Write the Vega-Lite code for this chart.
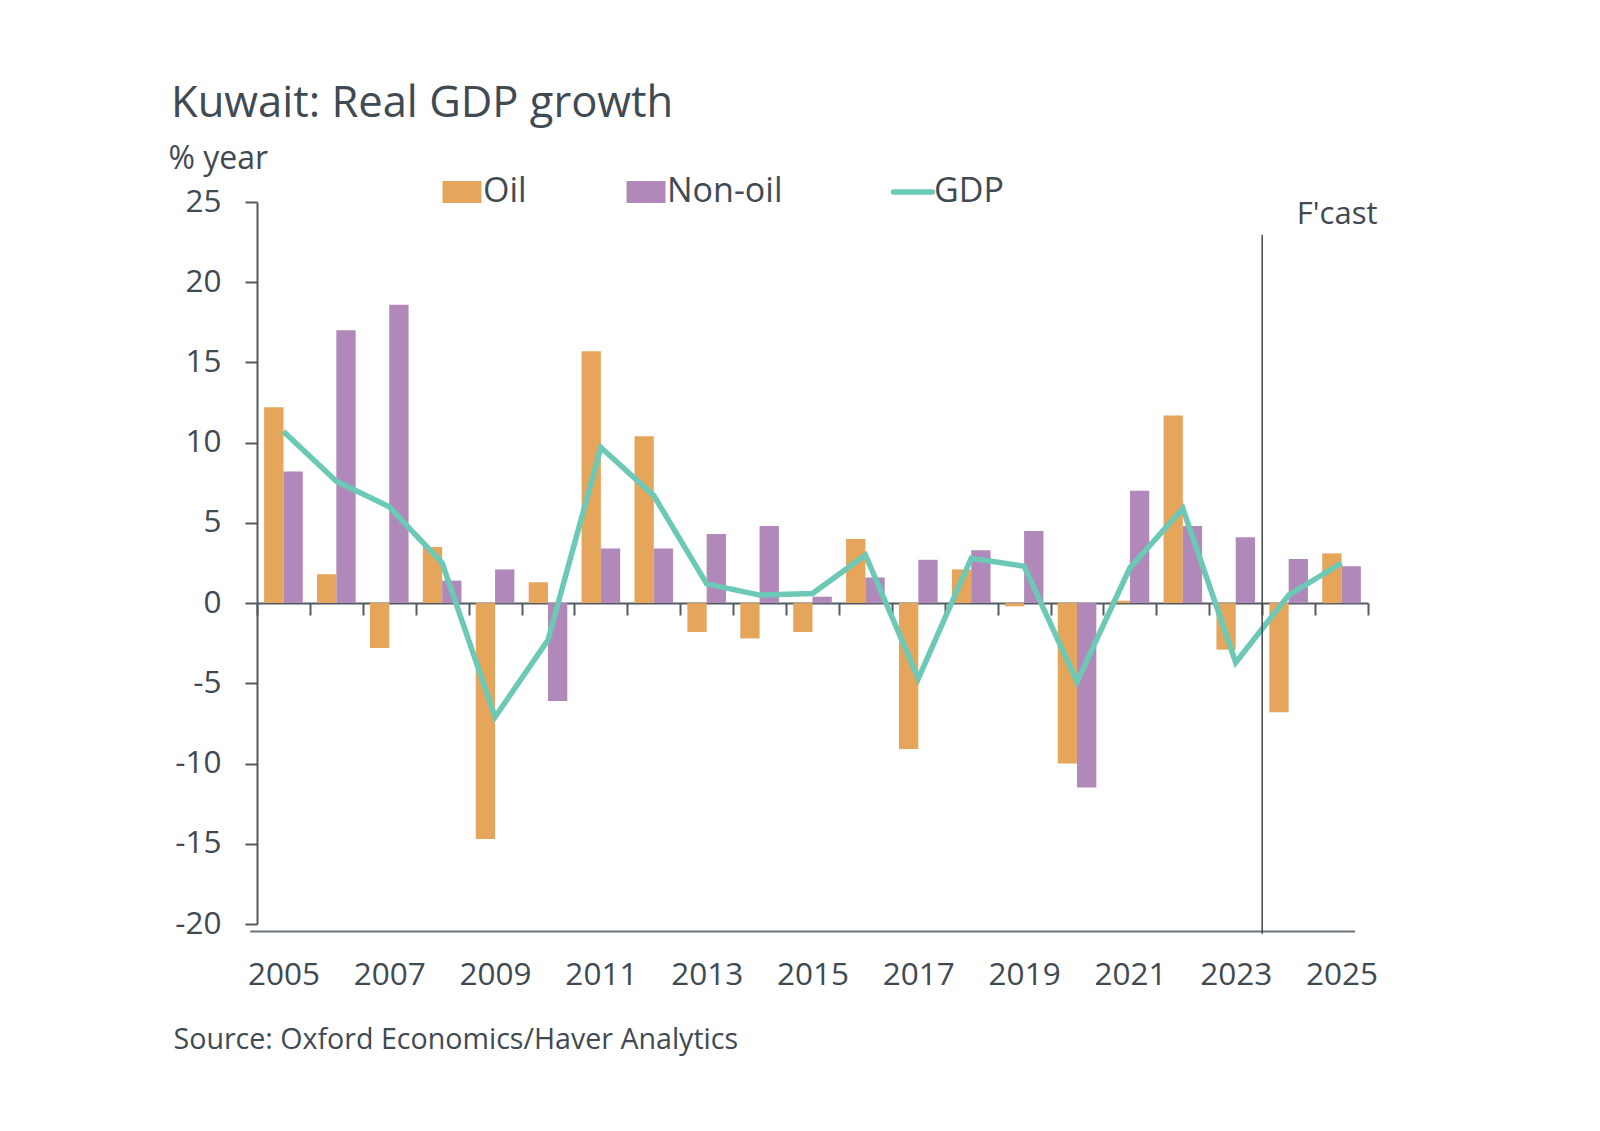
{
  "$schema": "https://vega.github.io/schema/vega-lite/v6.json",
  "autosize": {"type": "none"},
  "width": 1111,
  "height": 722,
  "padding": {"left": 257, "top": 202, "right": 232, "bottom": 207},
  "background": "white",
  "config": {"view": {"stroke": null}, "font": "Open Sans"},
  "title": {"text": "Kuwait: Real GDP growth", "anchor": "start", "frame": "group", "fontSize": 43.5, "fontWeight": "normal", "color": "#3f4a52", "font": "Open Sans", "dx": -86, "dy": 38, "baseline": "alphabetic", "offset": 20},
  "datasets": {
    "growth": [
      {"year": "2005", "series": "Oil", "value": 12.2}, {"year": "2005", "series": "Non-oil", "value": 8.2}, {"year": "2005", "series": "GDP", "value": 10.7},
      {"year": "2006", "series": "Oil", "value": 1.8}, {"year": "2006", "series": "Non-oil", "value": 17.0}, {"year": "2006", "series": "GDP", "value": 7.6},
      {"year": "2007", "series": "Oil", "value": -2.8}, {"year": "2007", "series": "Non-oil", "value": 18.6}, {"year": "2007", "series": "GDP", "value": 6.0},
      {"year": "2008", "series": "Oil", "value": 3.5}, {"year": "2008", "series": "Non-oil", "value": 1.4}, {"year": "2008", "series": "GDP", "value": 2.5},
      {"year": "2009", "series": "Oil", "value": -14.7}, {"year": "2009", "series": "Non-oil", "value": 2.1}, {"year": "2009", "series": "GDP", "value": -7.1},
      {"year": "2010", "series": "Oil", "value": 1.3}, {"year": "2010", "series": "Non-oil", "value": -6.1}, {"year": "2010", "series": "GDP", "value": -2.3},
      {"year": "2011", "series": "Oil", "value": 15.7}, {"year": "2011", "series": "Non-oil", "value": 3.4}, {"year": "2011", "series": "GDP", "value": 9.7},
      {"year": "2012", "series": "Oil", "value": 10.4}, {"year": "2012", "series": "Non-oil", "value": 3.4}, {"year": "2012", "series": "GDP", "value": 6.7},
      {"year": "2013", "series": "Oil", "value": -1.8}, {"year": "2013", "series": "Non-oil", "value": 4.3}, {"year": "2013", "series": "GDP", "value": 1.2},
      {"year": "2014", "series": "Oil", "value": -2.2}, {"year": "2014", "series": "Non-oil", "value": 4.8}, {"year": "2014", "series": "GDP", "value": 0.5},
      {"year": "2015", "series": "Oil", "value": -1.8}, {"year": "2015", "series": "Non-oil", "value": 0.4}, {"year": "2015", "series": "GDP", "value": 0.6},
      {"year": "2016", "series": "Oil", "value": 4.0}, {"year": "2016", "series": "Non-oil", "value": 1.6}, {"year": "2016", "series": "GDP", "value": 3.0},
      {"year": "2017", "series": "Oil", "value": -9.1}, {"year": "2017", "series": "Non-oil", "value": 2.7}, {"year": "2017", "series": "GDP", "value": -4.7},
      {"year": "2018", "series": "Oil", "value": 2.1}, {"year": "2018", "series": "Non-oil", "value": 3.3}, {"year": "2018", "series": "GDP", "value": 2.8},
      {"year": "2019", "series": "Oil", "value": -0.2}, {"year": "2019", "series": "Non-oil", "value": 4.5}, {"year": "2019", "series": "GDP", "value": 2.3},
      {"year": "2020", "series": "Oil", "value": -10.0}, {"year": "2020", "series": "Non-oil", "value": -11.5}, {"year": "2020", "series": "GDP", "value": -4.9},
      {"year": "2021", "series": "Oil", "value": 0.15}, {"year": "2021", "series": "Non-oil", "value": 7.0}, {"year": "2021", "series": "GDP", "value": 2.2},
      {"year": "2022", "series": "Oil", "value": 11.7}, {"year": "2022", "series": "Non-oil", "value": 4.8}, {"year": "2022", "series": "GDP", "value": 5.9},
      {"year": "2023", "series": "Oil", "value": -2.9}, {"year": "2023", "series": "Non-oil", "value": 4.1}, {"year": "2023", "series": "GDP", "value": -3.7},
      {"year": "2024", "series": "Oil", "value": -6.8}, {"year": "2024", "series": "Non-oil", "value": 2.75}, {"year": "2024", "series": "GDP", "value": 0.5},
      {"year": "2025", "series": "Oil", "value": 3.1}, {"year": "2025", "series": "Non-oil", "value": 2.3}, {"year": "2025", "series": "GDP", "value": 2.5}
    ],
    "notes": [{"label": "F'cast"}]
  },
  "data": {"name": "growth"},
  "layer": [
    {
      "transform": [{"filter": "datum.series !== 'GDP'"}],
      "mark": {"type": "bar"},
      "encoding": {
        "x": {
          "field": "year", "type": "nominal",
          "scale": {"domain": ["2005","2006","2007","2008","2009","2010","2011","2012","2013","2014","2015","2016","2017","2018","2019","2020","2021","2022","2023","2024","2025"], "paddingInner": 0, "paddingOuter": 0},
          "axis": {
            "orient": "bottom", "offset": -321, "domainColor": "#535b62", "domainWidth": 2, "tickColor": "#535b62", "tickWidth": 2, "tickSize": 12, "tickBand": "extent",
            "labelExpr": "parseInt(datum.value) % 2 == 1 ? datum.label : ''", "labelAngle": 0, "labelOverlap": false, "labelPadding": 344, "labelBaseline": "top",
            "labelFont": "Open Sans", "labelFontSize": 31.5, "labelColor": "#3f4a52",
            "title": "Source: Oxford Economics/Haver Analytics", "titleFont": "Open Sans", "titleFontSize": 28.6, "titleFontWeight": "normal", "titleColor": "#3f4a52",
            "titleAnchor": null, "titleAlign": "left", "titleBaseline": "alphabetic", "titleX": -84, "titleY": 445
          }
        },
        "xOffset": {"field": "series", "type": "nominal", "scale": {"domain": ["Oil", "Non-oil"], "paddingInner": 0, "paddingOuter": 0.37}},
        "y": {
          "field": "value", "type": "quantitative",
          "scale": {"domain": [-20, 25], "nice": false, "zero": false},
          "axis": {
            "values": [-20, -15, -10, -5, 0, 5, 10, 15, 20, 25], "grid": false, "domainColor": "#535b62", "domainWidth": 2, "tickColor": "#535b62", "tickWidth": 2, "tickSize": 12, "labelPadding": 24,
            "labelExpr": "'' + datum.value",
            "labelFont": "Open Sans", "labelFontSize": 31.5, "labelColor": "#3f4a52",
            "title": "% year", "titleFont": "Open Sans", "titleFontSize": 32, "titleFontWeight": "normal", "titleColor": "#3f4a52",
            "titleAngle": 0, "titleAnchor": null, "titleAlign": "left", "titleBaseline": "alphabetic", "titleX": -89, "titleY": -34
          }
        },
        "color": {
          "field": "series", "type": "nominal",
          "scale": {"domain": ["Oil", "Non-oil", "GDP"], "range": ["#e5a65c", "#b088b9", "#6bc9b6"]},
          "legend": {
            "orient": "none", "legendX": 188, "legendY": -27, "direction": "horizontal", "columns": 3, "columnPadding": 99, "title": null,
            "labelFont": "Open Sans", "labelFontSize": 34, "labelColor": "#3f4a52", "labelOffset": 4,
            "symbolSize": 1521, "symbolStrokeWidth": 0,
            "encode": {"symbols": {"update": {
              "shape": {"signal": "datum.value === 'GDP' ? 'M-1,0H1' : 'M-1,-0.56H1V0.56H-1Z'"},
              "fill": {"signal": "datum.value === 'GDP' ? 'transparent' : scale('color', datum.value)"},
              "stroke": {"signal": "scale('color', datum.value)"},
              "strokeWidth": {"signal": "datum.value === 'GDP' ? 5.5 : 0"},
              "strokeCap": {"value": "round"},
              "opacity": {"value": 1}
            }}}
          }
        }
      }
    },
    {
      "transform": [{"filter": "datum.series === 'GDP'"}],
      "mark": {"type": "line", "strokeWidth": 5.5, "strokeJoin": "miter"},
      "encoding": {
        "x": {"field": "year", "type": "nominal"},
        "y": {"field": "value", "type": "quantitative"},
        "color": {"field": "series", "type": "nominal"}
      }
    },
    {
      "data": {"name": "notes"},
      "mark": {"type": "rule", "color": "#6b737a", "strokeWidth": 2, "clip": false},
      "encoding": {
        "x": {"datum": "2005", "bandPosition": -0.13},
        "x2": {"datum": "2025", "bandPosition": 0.756},
        "y": {"datum": -20.47}
      }
    },
    {
      "data": {"name": "notes"},
      "mark": {"type": "rule", "color": "#3f474e", "strokeWidth": 1.5, "clip": false},
      "encoding": {
        "x": {"datum": "2024", "bandPosition": 0},
        "y": {"datum": 22.96},
        "y2": {"datum": -20.6}
      }
    },
    {
      "data": {"name": "notes"},
      "mark": {"type": "text", "font": "Open Sans", "fontSize": 31, "color": "#3f4a52", "align": "center", "baseline": "alphabetic"},
      "encoding": {
        "x": {"datum": "2025", "bandPosition": 0.416},
        "y": {"datum": 23.6},
        "text": {"field": "label"}
      }
    }
  ]
}
